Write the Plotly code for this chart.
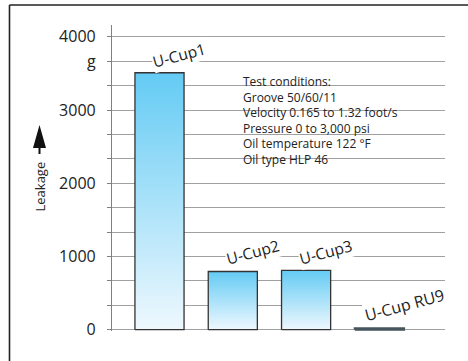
import plotly.graph_objects as go

# ---- data ----
categories = ["U-Cup1", "U-Cup2", "U-Cup3", "U-Cup RU9"]
leakage = [3510, 795, 810, 18]
tick_values = [0, 333.3, 666.7, 1000, 1333.3, 1666.7, 2000, 2333.3, 2666.7,
               3000, 3333.3, 3666.7, 4000]
tick_text = ["0", "", "", "1000", "", "", "2000", "", "", "3000", "", "g", "4000"]
conditions = [
    "Test conditions:",
    "Groove 50/60/11",
    "Velocity 0.165 to 1.32 foot/s",
    "Pressure 0 to 3,000 psi",
    "Oil temperature 122 \u00b0F",
    "Oil type HLP 46",
]

# ---- styling / layout (not data) ----
label_dx = [0.27, 0.27, 0.27, 0.34]
label_dy_px = [18, 19, 18, 23]
label_size = [15.5, 15.5, 15.5, 16]
BAR_W = 0.67
TOP_C = "#64cbf4"
BOT_C = "#eef8fe"
FONT = "Open Sans"

W, H = 468, 361
ML, MR, MT, MB = 112, 23, 25, 30


def px_x(x):
    return (x - ML) / (W - ML - MR)


def px_y(y):
    return (H - MB - y) / (H - MT - MB)


fig = go.Figure()
for i, (cat, v) in enumerate(zip(categories, leakage)):
    x0, x1 = i - BAR_W / 2, i + BAR_W / 2
    edge = "#46545e" if v < 100 else "#333333"
    fig.add_trace(go.Scatter(
        x=[x0, x0, x1, x1, x0], y=[0, v, v, 0, 0],
        mode="lines", fill="toself",
        fillgradient=dict(type="vertical", colorscale=[[0, BOT_C], [1, TOP_C]]),
        line=dict(color=edge, width=2.2 if v < 100 else 1.3),
        hoverinfo="skip", showlegend=False,
    ))

annotations = []
for i, (cat, v) in enumerate(zip(categories, leakage)):
    annotations.append(dict(
        x=i + label_dx[i], y=v, yshift=label_dy_px[i], xref="x", yref="y",
        text=cat, textangle=-15, showarrow=False, bgcolor="white", borderpad=0,
        xanchor="center", yanchor="middle",
        font=dict(family=FONT, size=label_size[i], color="#222222"),
    ))

annotations.append(dict(
    x=px_x(241), y=px_y(71), xref="paper", yref="paper",
    xanchor="left", yanchor="top", align="left", showarrow=False,
    text="<br>".join(conditions),
    font=dict(family=FONT, size=12, color="#222222"),
))

annotations.append(dict(
    x=px_x(39.5), y=px_y(187), xref="paper", yref="paper",
    xanchor="center", yanchor="middle",
    text="Leakage", textangle=-90, showarrow=False,
    font=dict(family=FONT, size=13, color="#222222"),
))

shapes = [
    # white panel behind test-conditions text
    dict(type="rect", xref="paper", yref="paper", layer="between",
         x0=px_x(236), x1=px_x(425), y0=px_y(70), y1=px_y(170),
         fillcolor="white", line=dict(width=0)),
    # frame lines
    dict(type="line", xref="paper", yref="paper",
         x0=px_x(9.5), x1=px_x(470), y0=px_y(5), y1=px_y(5),
         line=dict(color="#222222", width=1.6)),
    dict(type="line", xref="paper", yref="paper",
         x0=px_x(9.5), x1=px_x(9.5), y0=px_y(5), y1=px_y(365),
         line=dict(color="#222222", width=1.6)),
]

# arrow above "Leakage"
ax, tip, base, stem = 39.5, 125, 148, 154
arrow_pts = [(ax, tip), (ax + 6.5, base), (ax + 1, base), (ax + 1, stem),
             (ax - 1, stem), (ax - 1, base), (ax - 6.5, base)]
path = "M " + " L ".join(f"{px_x(x):.5f},{px_y(y):.5f}" for x, y in arrow_pts) + " Z"
shapes.append(dict(type="path", xref="paper", yref="paper", path=path,
                   fillcolor="#111111", line=dict(width=0)))

fig.update_layout(
    width=W, height=H,
    margin=dict(l=ML, r=MR, t=MT, b=MB),
    paper_bgcolor="white", plot_bgcolor="white",
    annotations=annotations, shapes=shapes,
    font=dict(family=FONT, color="#222222"),
    xaxis=dict(range=[-0.648, 3.895], showgrid=False, zeroline=False,
               showticklabels=False, showline=False, ticks=""),
    yaxis=dict(range=[-18, 4162], tickmode="array", tickvals=tick_values,
               ticktext=tick_text, showgrid=True, gridcolor="#a0a0a0",
               gridwidth=1.2, zeroline=False, showline=True, linecolor="#808080",
               linewidth=1.2, ticks="outside", ticklen=4, tickcolor="#808080",
               tickwidth=1.2, ticklabelstandoff=8,
               tickfont=dict(family=FONT, size=16, color="#222222")),
)

fig.write_html(
    "out.html",
    config={"displayModeBar": False},
    post_script="document.body.style.margin='0px';document.body.style.overflow='hidden';",
)
